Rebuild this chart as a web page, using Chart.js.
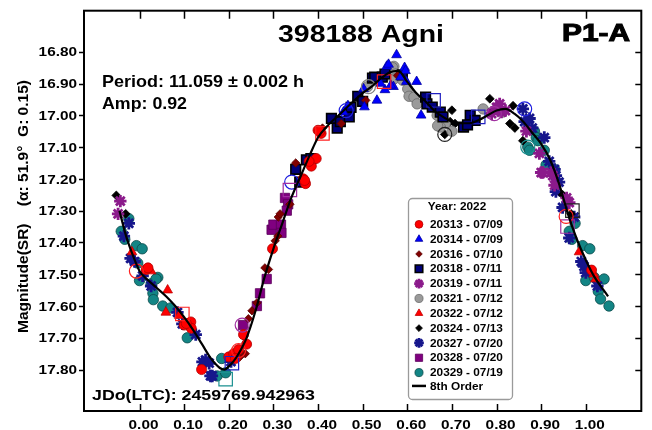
<!DOCTYPE html>
<html lang="en">
<head>
    <meta charset="UTF-8">
    <title>398188 Agni - lightcurve</title>
    <style>
        body { margin: 0; background: #fff; }
        #lc { display: block; }
    </style>
</head>
<body>
    <canvas id="lc" width="652" height="430"></canvas>
    <script src="https://cdn.jsdelivr.net/npm/chart.js"></script>
    <script>
        // sessions, [phase, magnitude]
        const sessionLabels = ['20313 - 07/09', '20314 - 07/09', '20316 - 07/10', '20318 - 07/11', '20319 - 07/11',
            '20321 - 07/12', '20322 - 07/12', '20324 - 07/13', '20327 - 07/20', '20328 - 07/20', '20329 - 07/19'];

        const s20313 = [[0.015, 17.485], [0.019, 17.48], [0.10, 17.66], [0.115, 17.65], [0.116, 17.67], [0.105, 17.655],
            [0.139, 17.80], [0.20, 17.76], [0.211, 17.75], [0.222, 17.737], [0.24, 17.72], [0.233, 17.69], [0.215, 17.765],
            [0.298, 17.42], [0.372, 17.215], [0.367, 17.20], [0.37, 17.205], [0.385, 17.16], [0.396, 17.136], [0.38, 17.145],
            [0.40, 17.047], [0.407, 17.057], [0.404, 17.05], [1.013, 17.487]];
        const s20314 = [[0.576, 16.81], [0.554, 16.846], [0.558, 16.84], [0.594, 16.85], [0.598, 16.894], [0.621, 16.894],
            [0.569, 16.91], [0.55, 16.92], [0.532, 16.953], [0.504, 16.974], [0.502, 16.917], [0.467, 16.97], [0.457, 16.99],
            [0.631, 17.0], [0.563, 16.906], [0.596, 16.86], [0.585, 16.88], [0.54, 16.90]];
        const s20316 = [[0.237, 17.75], [0.225, 17.76], [0.244, 17.64], [0.252, 17.615], [0.233, 17.695], [0.281, 17.48],
            [0.289, 17.485], [0.304, 17.395], [0.31, 17.38], [0.311, 17.32], [0.315, 17.31], [0.337, 17.28], [0.35, 17.15],
            [0.507, 16.953], [0.452, 17.026], [0.41, 17.04], [0.578, 16.875], [0.263, 17.59]];
        const s20318 = [[0.359, 17.21], [0.374, 17.14], [0.384, 17.136], [0.35, 17.17], [0.43, 17.01], [0.443, 17.04],
            [0.45, 17.02], [0.47, 17.005], [0.474, 16.975], [0.489, 16.94], [0.50, 16.956], [0.522, 16.883], [0.527, 16.88],
            [0.544, 16.88], [0.55, 16.87], [0.589, 16.873], [0.641, 16.943], [0.644, 16.964], [0.656, 16.974], [0.674, 16.99],
            [0.68, 17.005], [0.726, 17.037], [0.741, 17.0], [0.752, 17.016], [0.735, 17.03]];
        const s20319 = [[-0.043, 17.27], [-0.048, 17.31], [0.789, 16.995], [0.807, 16.964], [0.811, 16.99], [0.80, 16.975],
            [0.82, 16.985], [0.867, 17.05], [0.896, 17.12], [0.90, 17.18], [0.922, 17.18], [0.926, 17.19], [0.957, 17.26],
            [0.963, 17.275], [0.904, 17.18], [0.93, 17.22]];
        const s20321 = [[0.57, 16.846], [0.567, 16.85], [0.574, 16.87], [0.57, 16.886], [0.511, 16.91], [0.601, 16.917],
            [0.604, 16.94], [0.615, 16.943], [0.622, 16.964], [0.667, 17.0], [0.685, 17.026], [0.674, 17.037], [0.668, 17.033],
            [0.70, 17.05], [0.77, 16.98], [0.80, 16.98], [0.813, 16.99], [0.59, 16.89]];
        const s20322 = [[-0.017, 17.43], [0.026, 17.49], [0.063, 17.55], [0.059, 17.62], [0.089, 17.63], [0.985, 17.43],
            [1.022, 17.515], [1.018, 17.50]];
        const s20324 = [[-0.052, 17.252], [-0.031, 17.31], [0.70, 16.984], [0.696, 17.02], [0.707, 17.026], [0.684, 17.06],
            [0.785, 16.948], [0.784, 16.99], [0.837, 16.97], [0.83, 17.026], [0.841, 17.04], [0.859, 17.08], [0.948, 17.25],
            [0.967, 17.31]];
        const s20327 = [[-0.024, 17.34], [-0.035, 17.38], [-0.011, 17.46], [0.007, 17.505], [0.026, 17.537], [0.096, 17.656],
            [0.126, 17.69], [0.141, 17.776], [0.148, 17.77], [0.156, 17.78], [0.159, 17.82], [0.163, 17.82], [0.085, 17.62],
            [-0.02, 17.45], [0.205, 17.775], [0.859, 16.98], [0.863, 17.02], [0.874, 17.01], [0.907, 17.07], [0.918, 17.145],
            [0.93, 17.17], [0.933, 17.19], [0.933, 17.24], [0.948, 17.29], [0.974, 17.32], [0.963, 17.386], [0.99, 17.46],
            [0.996, 17.475], [1.0, 17.495], [1.026, 17.537], [0.88, 17.04], [0.94, 17.21]];
        const s20328 = [[0.232, 17.66], [0.263, 17.60], [0.27, 17.56], [0.285, 17.515], [0.296, 17.36], [0.30, 17.344],
            [0.317, 17.344], [0.318, 17.37], [0.326, 17.26], [0.333, 17.28], [0.33, 17.30]];
        const s20329 = [[-0.024, 17.325], [-0.041, 17.365], [-0.033, 17.39], [-0.007, 17.41], [0.006, 17.42], [-0.004, 17.465],
            [0.0, 17.52], [0.041, 17.51], [0.026, 17.53], [0.037, 17.515], [0.03, 17.56], [0.031, 17.58], [0.052, 17.60],
            [0.07, 17.606], [0.107, 17.70], [0.174, 17.82], [0.184, 17.765], [0.193, 17.81], [0.885, 17.05], [0.87, 17.10],
            [0.889, 17.07], [0.893, 17.08], [0.874, 17.11], [0.907, 17.11], [0.911, 17.156], [0.93, 17.17], [0.976, 17.34],
            [0.963, 17.365], [0.969, 17.39], [0.993, 17.41], [1.009, 17.42], [1.0, 17.52], [1.019, 17.51], [1.041, 17.515],
            [1.028, 17.554], [1.033, 17.578], [1.052, 17.60]];

        // flagged observations, drawn as large hollow marks
        const openRedCircle = [[-0.007, 17.49], [0.956, 17.318], [0.222, 17.74]];
        const openRedSquare = [[0.096, 17.625], [0.41, 17.057], [0.548, 16.894]];
        const openPurpleCircle = [[0.23, 17.66], [0.795, 16.995]];
        const openPurpleSquare = [[0.337, 17.235], [0.959, 17.35]];
        const openBlueCircle = [[0.463, 16.985], [0.863, 16.98], [0.341, 17.21]];
        const openNavySquare = [[0.659, 16.953], [0.759, 17.005], [0.207, 17.78]];
        const openTealSquare = [[0.193, 17.83]];
        const openTealCircle = [[0.87, 17.10]];
        const openGrayCircle = [[0.513, 16.91]];
        const openBlackCircle = [[0.684, 17.06]];
        const openBlackSquare = [[0.97, 17.30]];

        // 8th order Fourier fit
        const fitPhase = [-0.045, -0.03, -0.015, 0, 0.02, 0.04, 0.06, 0.08, 0.10, 0.12, 0.14, 0.16, 0.18, 0.19, 0.20, 0.21, 0.22,
            0.24, 0.26, 0.28, 0.30, 0.32, 0.34, 0.36, 0.38, 0.40, 0.42, 0.45, 0.48, 0.50, 0.52, 0.54, 0.56, 0.58, 0.60, 0.62,
            0.64, 0.66, 0.68, 0.70, 0.72, 0.74, 0.76, 0.78, 0.80, 0.82, 0.84, 0.86, 0.88, 0.90, 0.92, 0.94, 0.96, 0.98, 1.00,
            1.02, 1.04, 1.05];
        const fitMag = [17.30, 17.38, 17.44, 17.49, 17.52, 17.545, 17.57, 17.60, 17.635, 17.675, 17.72, 17.765, 17.795, 17.80,
            17.79, 17.775, 17.755, 17.70, 17.615, 17.51, 17.42, 17.34, 17.26, 17.195, 17.13, 17.07, 17.035, 16.995, 16.955,
            16.93, 16.91, 16.885, 16.865, 16.86, 16.895, 16.93, 16.955, 16.985, 17.005, 17.02, 17.025, 17.025, 17.015, 17.0,
            16.985, 16.98, 16.995, 17.02, 17.055, 17.09, 17.14, 17.215, 17.31, 17.39, 17.455, 17.51, 17.55, 17.57];

        const xTicks = [0.00, 0.10, 0.20, 0.30, 0.40, 0.50, 0.60, 0.70, 0.80, 0.90, 1.00];
        const yTicks = [16.80, 16.90, 17.00, 17.10, 17.20, 17.30, 17.40, 17.50, 17.60, 17.70, 17.80];

        const sessionData = [s20313, s20314, s20316, s20318, s20319, s20321, s20322, s20324, s20327, s20328, s20329];
        const markers = [
            { style: 'circle', r: 5, fill: '#ff0000', edge: '#b00000', bw: 0.8 },
            { style: 'triangle', r: 5.6, fill: '#0000ff', edge: '#0000a0', bw: 0.8 },
            { style: 'rectRot', r: 4.2, fill: '#800000', edge: '#5a0000', bw: 0.8 },
            { style: 'rect', r: 6.8, fill: '#00007a', edge: '#000000', bw: 1.6 },
            { style: 'star', r: 6.2, fill: '#8b1a8b', edge: '#8b1a8b', bw: 2.8 },
            { style: 'circle', r: 5.2, fill: '#9a9a9a', edge: '#6a6a6a', bw: 0.8 },
            { style: 'triangle', r: 5.6, fill: '#ff0000', edge: '#c00000', bw: 0.8 },
            { style: 'rectRot', r: 4.4, fill: '#000000', edge: '#000000', bw: 0.8 },
            { style: 'star', r: 6.2, fill: '#16168c', edge: '#16168c', bw: 2.8 },
            { style: 'rect', r: 6.6, fill: '#800080', edge: '#5a005a', bw: 0.8 },
            { style: 'circle', r: 5.2, fill: '#138585', edge: '#0b4a4a', bw: 0.8 }
        ];
        const openMarks = [
            [openRedCircle, 'circle', '#ff2020'], [openRedSquare, 'rect', '#ff2020'],
            [openPurpleCircle, 'circle', '#a030a0'], [openPurpleSquare, 'rect', '#a030a0'],
            [openBlueCircle, 'circle', '#2020e0'], [openNavySquare, 'rect', '#2020c0'],
            [openTealSquare, 'rect', '#1a9090'], [openTealCircle, 'circle', '#1a9090'],
            [openGrayCircle, 'circle', '#808080'], [openBlackCircle, 'circle', '#202020'],
            [openBlackSquare, 'rect', '#202020']
        ];

        const toXY = arr => arr.map(p => ({ x: p[0], y: p[1] }));

        const datasets = [];
        datasets.push({
            type: 'line',
            label: '8th Order',
            data: fitPhase.map((p, i) => ({ x: p, y: fitMag[i] })),
            borderColor: '#000',
            borderWidth: 2.2,
            pointRadius: 0,
            cubicInterpolationMode: 'monotone',
            order: 0
        });
        openMarks.forEach(([arr, style, color]) => {
            datasets.push({
                label: '',
                data: toXY(arr),
                pointStyle: style,
                pointRadius: style === 'rect' ? 9.5 : 7,
                backgroundColor: 'rgba(0,0,0,0)',
                borderColor: color,
                pointBorderWidth: 1.2,
                order: 1
            });
        });
        sessionData.forEach((arr, i) => {
            const m = markers[i];
            datasets.push({
                label: sessionLabels[i],
                data: toXY(arr),
                pointStyle: m.style,
                pointRadius: m.r,
                backgroundColor: m.fill,
                borderColor: m.edge,
                pointBorderWidth: m.bw,
                order: 2 + i
            });
        });

        // bold text, widened horizontally
        function wideText(ctx, text, x, capMid, size, opts) {
            opts = opts || {};
            ctx.save();
            ctx.font = 'bold ' + size + 'px "Liberation Sans", Arial, sans-serif';
            ctx.textBaseline = 'alphabetic';
            ctx.textAlign = 'left';
            const natural = ctx.measureText(text).width;
            const sx = opts.width ? opts.width / natural : (opts.sx || 1.18);
            const w = natural * sx;
            let x0 = x;
            if (opts.align === 'center') x0 = x - w / 2;
            else if (opts.align === 'right') x0 = x - w;
            ctx.translate(x0, capMid + size * 0.358);
            ctx.scale(sx, 1);
            ctx.fillStyle = '#000';
            ctx.fillText(text, 0, 0);
            if (opts.heavy) {
                ctx.lineWidth = opts.heavy;
                ctx.strokeStyle = '#000';
                ctx.strokeText(text, 0, 0);
            }
            ctx.restore();
        }

        const framePlugin = {
            id: 'frame',
            afterDraw(chart) {
                const ctx = chart.ctx;
                const a = chart.chartArea;
                const xs = chart.scales.x, ys = chart.scales.y;
                ctx.save();
                ctx.strokeStyle = '#000';
                ctx.lineWidth = 1.5;
                ctx.beginPath();
                xTicks.forEach(v => {
                    const px = Math.round(xs.getPixelForValue(v)) + 0.5;
                    ctx.moveTo(px, a.top); ctx.lineTo(px, a.top + 8);
                    ctx.moveTo(px, a.bottom); ctx.lineTo(px, a.bottom - 7);
                });
                yTicks.forEach(v => {
                    const py = Math.round(ys.getPixelForValue(v)) + 0.5;
                    ctx.moveTo(a.left - 5, py); ctx.lineTo(a.left, py);
                    ctx.moveTo(a.right, py); ctx.lineTo(a.right - 6, py);
                });
                ctx.stroke();
                ctx.lineWidth = 2;
                ctx.strokeRect(a.left, a.top, a.right - a.left, a.bottom - a.top);
                ctx.restore();

                yTicks.forEach(v => wideText(ctx, v.toFixed(2), a.left - 7, ys.getPixelForValue(v), 13, { align: 'right' }));
                xTicks.forEach(v => wideText(ctx, v.toFixed(2), xs.getPixelForValue(v) + 4, 424.5, 13, { align: 'center' }));

                wideText(ctx, '398188 Agni', 361, 33.5, 24, { align: 'center', width: 166 });
                wideText(ctx, 'P1-A', 562, 33, 23, { width: 68, heavy: 1 });
                wideText(ctx, 'Period: 11.059 \u00b1 0.002 h', 102, 81, 16.5, { width: 202 });
                wideText(ctx, 'Amp: 0.92', 102, 103, 16.5, { width: 85 });
                wideText(ctx, 'JDo(LTC): 2459769.942963', 92, 394, 15.5, { width: 223 });

                // rotated axis title
                ctx.save();
                ctx.translate(23, 206.5);
                ctx.rotate(-Math.PI / 2);
                wideText(ctx, 'Magnitude(SR)    (\u03b1: 51.9\u00b0  G: 0.15)', 0, 0, 14, { align: 'center', width: 253 });
                ctx.restore();
            }
        };

        const legendPlugin = {
            id: 'boxLegend',
            afterDraw(chart) {
                const ctx = chart.ctx;
                const drawPoint = Chart.helpers && Chart.helpers.drawPoint;
                ctx.save();
                ctx.fillStyle = '#fff';
                ctx.strokeStyle = '#9a9a9a';
                ctx.lineWidth = 1.3;
                ctx.beginPath();
                ctx.roundRect(408.5, 198.5, 104, 201, 4);
                ctx.fill();
                ctx.stroke();
                ctx.restore();

                wideText(ctx, 'Year: 2022', 457, 206.7, 10, { align: 'center' });
                sessionLabels.forEach((lab, i) => {
                    const y = 224.3 + i * 14.83;
                    const m = markers[i];
                    ctx.save();
                    ctx.fillStyle = m.fill;
                    ctx.strokeStyle = m.edge;
                    ctx.lineWidth = m.bw;
                    if (drawPoint) {
                        drawPoint(ctx, { pointStyle: m.style, radius: m.r * 0.78, rotation: 0, borderWidth: m.bw }, 419, y);
                    }
                    ctx.restore();
                    wideText(ctx, lab, 430, y, 10);
                });
                const ly = 224.3 + 11 * 14.83 - 1.5;
                ctx.save();
                ctx.strokeStyle = '#000';
                ctx.lineWidth = 2.5;
                ctx.beginPath();
                ctx.moveTo(412, ly); ctx.lineTo(426, ly);
                ctx.stroke();
                ctx.restore();
                wideText(ctx, '8th Order', 430, ly, 10);
            }
        };

        new Chart(document.getElementById('lc').getContext('2d'), {
            type: 'scatter',
            data: { datasets },
            options: {
                responsive: false,
                animation: false,
                devicePixelRatio: 1,
                layout: { padding: { left: 84, top: 8, right: 6, bottom: 19 } },
                scales: {
                    x: { type: 'linear', min: -0.1244, max: 1.1244, display: false },
                    y: { type: 'linear', reverse: true, min: 16.6709, max: 17.9303, display: false }
                },
                plugins: {
                    legend: { display: false },
                    tooltip: { enabled: false }
                }
            },
            plugins: [framePlugin, legendPlugin]
        });
    </script>
</body>
</html>
